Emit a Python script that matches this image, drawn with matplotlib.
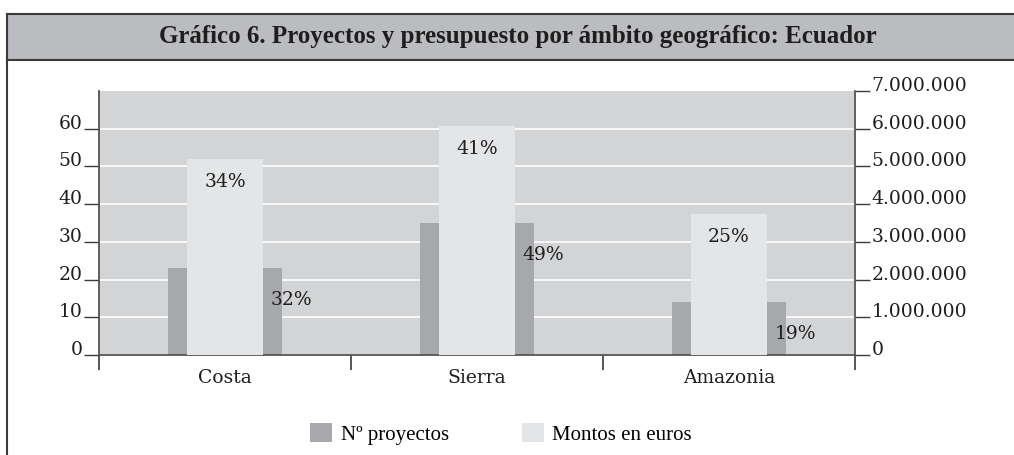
import matplotlib
matplotlib.use('Agg')
import matplotlib.pyplot as plt
from matplotlib.patches import Rectangle, Patch
from matplotlib.lines import Line2D
from matplotlib.ticker import FuncFormatter

# data
regions = ['Costa', 'Sierra', 'Amazonia']
proyectos = [23, 35, 14]
montos = [5190000, 6060000, 3750000]
pct_proyectos = ['32%', '49%', '19%']
pct_montos = ['34%', '41%', '25%']
left_ticks = [0, 10, 20, 30, 40, 50, 60]
right_ticks = [0, 1000000, 2000000, 3000000, 4000000, 5000000, 6000000, 7000000]

dark = '#a7a8ab'
light = '#e4e5e7'
plot_bg = '#d3d4d6'
title_bg = '#bbbcbf'
edge = '#3a3a3a'
txt = '#1e1e1e'
serif = 'DejaVu Serif'
fs = 13.5

W, H = 1014, 455
fig = plt.figure(figsize=(W / 100, H / 100), dpi=100)

# frame + title band (pixel coords -> figure fraction)
def fx(px): return px / W
def fy(py): return 1 - py / H

fig.patches.append(Rectangle((fx(7), fy(60)), fx(W) - fx(7), fy(14) - fy(60),
                             transform=fig.transFigure, facecolor=title_bg,
                             edgecolor='none', zorder=0))
for xs, ys in [([7, W], [14, 14]), ([7, W], [60, 60]), ([7, 7], [14, H])]:
    fig.lines.append(Line2D([fx(x) for x in xs], [fy(y) for y in ys],
                            transform=fig.transFigure, color=edge, lw=1.5))
fig.text(fx(518), fy(36), 'Gráfico 6. Proyectos y presupuesto por ámbito geográfico: Ecuador',
         ha='center', va='center', fontsize=18, fontweight='bold',
         family='Liberation Serif', color=txt)

ax = fig.add_axes([fx(99), fy(355), fx(855) - fx(99), fy(91) - fy(355)])
ax.set_facecolor(plot_bg)
ax2 = ax.twinx()

x = list(range(len(regions)))
ax.bar(x, proyectos, width=0.45, color=dark, zorder=2)
ax2.bar(x, montos, width=0.30, color=light, zorder=2)

ax.set_xlim(-0.5, 2.5)
ax.set_ylim(0, 70)
ax2.set_ylim(0, 7000000)

ax.set_yticks(left_ticks)
ax.grid(axis='y', color='white', lw=1.2, zorder=1)
ax.set_axisbelow(True)
ax2.set_yticks(right_ticks)
ax2.yaxis.set_major_formatter(FuncFormatter(lambda v, p: f'{int(v):,}'.replace(',', '.')))

ax.set_xticks([-0.5, 0.5, 1.5, 2.5])
ax.set_xticklabels([])
ax.set_xticks(x, minor=True)
ax.set_xticklabels(regions, minor=True)
ax.tick_params(axis='x', which='major', length=11, width=1.2, color=edge, direction='out')
ax.tick_params(axis='x', which='minor', length=0, pad=10, labelsize=fs)
ax.tick_params(axis='y', length=11, width=1.0, color=edge, pad=1, labelsize=fs)
ax2.tick_params(axis='y', length=11, width=1.0, color=edge, pad=1, labelsize=fs)

for a in (ax, ax2):
    for lbl in a.get_xticklabels(minor=True) + a.get_yticklabels():
        lbl.set_fontfamily(serif)
        lbl.set_color(txt)
for lbl in ax.get_yticklabels() + ax2.get_yticklabels():
    lbl.set_va('baseline')

for a in (ax, ax2):
    a.spines['top'].set_visible(False)
    for s in ('left', 'right', 'bottom'):
        a.spines[s].set_color('#555555')
        a.spines[s].set_linewidth(1.3)
ax.spines['right'].set_visible(False)
ax2.spines['left'].set_visible(False)
ax2.spines['bottom'].set_visible(False)

for i in x:
    ax.annotate(pct_proyectos[i], (i + 0.225, proyectos[i]), xytext=(-11, -32),
                textcoords='offset pixels', ha='left', va='center',
                fontsize=fs, family=serif, color=txt, zorder=5)
    ax2.annotate(pct_montos[i], (i, montos[i]), xytext=(0, -23),
                 textcoords='offset pixels', ha='center', va='center',
                 fontsize=fs, family=serif, color=txt, zorder=5)

handles = [Patch(facecolor=dark, edgecolor='none', label='Nº proyectos'),
           Patch(facecolor=light, edgecolor='none', label='Montos en euros')]
fig.legend(handles=handles, loc='center', bbox_to_anchor=(fx(501), fy(434)), ncol=2,
           frameon=False, prop={'family': 'Liberation Serif', 'size': 15},
           handlelength=1.05, handleheight=1.05, handletextpad=0.4, columnspacing=3.5)

fig.savefig('out.png', dpi=100)
